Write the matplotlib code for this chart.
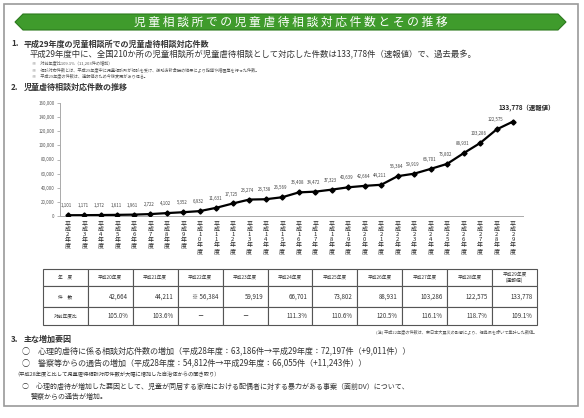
import matplotlib
matplotlib.use("Agg")
import matplotlib.pyplot as plt
from matplotlib.patches import Polygon, Rectangle

plt.rcParams['font.family'] = ['Noto Sans CJK JP', 'DejaVu Sans']

# data
years = [2, 3, 4, 5, 6, 7, 8, 9, 10, 11, 12, 13, 14, 15, 16, 17, 18, 19,
         20, 21, 22, 23, 24, 25, 26, 27, 28, 29]
cases = [1101, 1171, 1372, 1611, 1961, 2722, 4102, 5352, 6932, 11631, 17725,
         23274, 23738, 26569, 33408, 34472, 37323, 40639, 42664, 44211, 56384,
         59919, 66701, 73802, 88931, 103286, 122575, 133778]

table_head = ["年　度", "平成20年度", "平成21年度", "平成22年度", "平成23年度",
              "平成24年度", "平成25年度", "平成26年度", "平成27年度", "平成28年度",
              "平成29年度\n(速報値)"]
table_counts = ["件　数", "42,664", "44,211", "※ 56,384", "59,919", "66,701",
                "73,802", "88,931", "103,286", "122,575", "133,778"]
table_ratio = ["対前年度比", "105.0%", "103.6%", "－", "－", "111.3%",
               "110.6%", "120.5%", "116.1%", "118.7%", "109.1%"]

W, H = 584, 418
fig = plt.figure(figsize=(W / 100, H / 100), dpi=100)
fig.patch.set_facecolor('white')


def fx(x):
    return x / W


def fy(y):
    return 1 - y / H


txt = '#333333'

# outer frame
fig.patches.append(Rectangle((fx(4), fy(406)), fx(574), 402 / H, transform=fig.transFigure,
                             fill=False, edgecolor='#9a9a9a', linewidth=1.2))

# green banner
pts = [(15, 22), (23, 14), (558, 14), (566, 22), (558, 30), (23, 30)]
fig.patches.append(Polygon([(fx(a), fy(b)) for a, b in pts], closed=True,
                           transform=fig.transFigure, facecolor='#3f9b2c',
                           edgecolor='#2d7a1e', linewidth=0.8))
fig.text(fx(291), fy(22.5), " ".join("児童相談所での児童虐待相談対応件数とその推移"),
         color='white', fontsize=8.5, ha='center', va='center')

# section 1
fig.text(fx(11), fy(44), "1.", fontsize=5.8, color=txt, va='center', fontweight='bold')
fig.text(fx(24), fy(44), "平成29年度の児童相談所での児童虐待相談対応件数",
         fontsize=5.8, color=txt, va='center', fontweight='bold')
fig.text(fx(30), fy(55), "平成29年度中に、全国210か所の児童相談所が児童虐待相談として対応した件数は133,778件（速報値）で、過去最多。",
         fontsize=6.0, color=txt, va='center')
notes = ["※　対前年度比109.1%（11,203件の増加）",
         "※　相談対応件数とは、平成29年度中に児童相談所が相談を受け、援助方針会議の結果により指導や措置等を行った件数。",
         "※　平成29年度の件数は、速報値のため今後変更があり得る。"]
for i, s in enumerate(notes):
    fig.text(fx(32), fy(64 + 6 * i), s, fontsize=3.0, color='#555555', va='center')

# section 2
fig.text(fx(11), fy(87), "2.", fontsize=5.8, color=txt, va='center', fontweight='bold')
fig.text(fx(24), fy(87), "児童虐待相談対応件数の推移", fontsize=5.8, color=txt, va='center',
         fontweight='bold')

# line chart
ax = fig.add_axes([fx(60), fy(216), fx(463), 113 / H])
x = list(range(len(cases)))
ax.plot(x, cases, color='black', linewidth=1.6, marker='D', markersize=2.6, zorder=3)
ax.set_xlim(-0.48, 27.6)
ax.set_ylim(0, 160000)
ax.set_yticks(range(0, 160001, 20000))
ax.set_yticklabels([f"{v:,}" for v in range(0, 160001, 20000)], fontsize=3.2, color='#555555')
ax.set_xticks(x)
ax.set_xticklabels(["\n".join("平成" + str(y) + "年度") for y in years],
                   fontsize=4.3, color='#222222', linespacing=1.05)
ax.tick_params(axis='x', length=0, pad=4)
ax.tick_params(axis='y', length=2, width=0.5, color='#999999', pad=2)
for s in ['top', 'right']:
    ax.spines[s].set_visible(False)
for s in ['left', 'bottom']:
    ax.spines[s].set_color('#aaaaaa')
    ax.spines[s].set_linewidth(0.7)
for i, v in enumerate(cases[:-1]):
    ax.annotate(f"{v:,}", (i, v), xytext=(-1, 5), textcoords='offset points',
                fontsize=3.2, color='#444444', ha='center', va='bottom')
ax.annotate(f"{cases[-1]:,}（速報値）", (len(cases) - 1, cases[-1]), xytext=(10, 7),
            textcoords='offset points', fontsize=4.6, fontweight='bold',
            color='#222222', ha='center', va='bottom')

# table
tax = fig.add_axes([fx(43), fy(325), fx(494), 56 / H])
tax.axis('off')
tbl = tax.table(cellText=[table_head, table_counts, table_ratio], bbox=[0, 0, 1, 1],
                cellLoc='right')
tbl.auto_set_font_size(False)
row_h = [17 / 56, 21 / 56, 18 / 56]
for (r, c), cell in tbl.get_celld().items():
    cell.set_height(row_h[r])
    cell.set_linewidth(0.8)
    cell.set_edgecolor('#555555')
    cell.get_text().set_color(txt)
    if r == 0 or c == 0:
        cell.get_text().set_ha('center')
        cell._loc = 'center'
        cell.get_text().set_fontsize(3.4)
    else:
        cell.get_text().set_fontsize(4.4)
    if r > 0 and c > 0 and table_ratio[c] == "－" and r == 2:
        cell._loc = 'center'
        cell.get_text().set_ha('center')
tax.set_xlim(0, 1)
tax.set_ylim(0, 1)
fig.text(fx(537), fy(332), "(注) 平成22年度の件数は、東日本大震災の影響により、福島県を除いて集計した数値。",
         fontsize=3.0, color='#555555', ha='right', va='center')

# section 3
fig.text(fx(11), fy(339), "3.", fontsize=5.8, color=txt, va='center', fontweight='bold')
fig.text(fx(24), fy(339), "主な増加要因", fontsize=5.8, color=txt, va='center', fontweight='bold')
fig.text(fx(22), fy(351), "○　心理的虐待に係る相談対応件数の増加（平成28年度：63,186件→平成29年度：72,197件（+9,011件））",
         fontsize=5.8, color=txt, va='center')
fig.text(fx(22), fy(363), "○　警察等からの通告の増加（平成28年度：54,812件→平成29年度：66,055件（+11,243件））",
         fontsize=5.8, color=txt, va='center')
fig.text(fx(14), fy(375), "（平成28年度と比して児童虐待相談対応件数が大幅に増加した自治体からの聞き取り）",
         fontsize=3.8, color=txt, va='center')
fig.text(fx(22), fy(387), "○　心理的虐待が増加した要因として、児童が同居する家庭における配偶者に対する暴力がある事案（面前DV）について、",
         fontsize=5.0, color=txt, va='center')
fig.text(fx(31), fy(397), "警察からの通告が増加。", fontsize=5.0, color=txt, va='center')

fig.savefig("out.png", dpi=100, facecolor='white')
